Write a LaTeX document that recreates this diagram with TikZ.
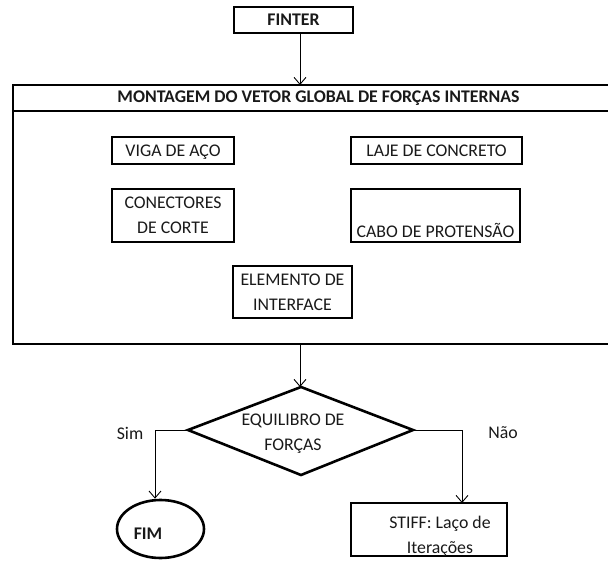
\documentclass[tikz,border=0pt]{standalone}
\usepackage{fontspec}
\setmainfont{Carlito}
\usetikzlibrary{arrows.meta,shapes.geometric}
\begin{document}
\begin{tikzpicture}[x=1pt,y=-1pt,
  every node/.style={font=\fontsize{17.8}{25}\selectfont, text=black!90, inner sep=0pt},
  boldtext/.style={font=\bfseries\fontsize{17.8}{21}\selectfont},
  blockbox/.style={draw, line width=2.6pt, minimum width=#1, align=center, text depth=0pt},
  flow/.style={draw, line width=0.9pt, -{Straight Barb[length=7pt,width=12pt,line width=0.9pt]}},
  lbl/.style={font=\fontsize{17.8}{21}\selectfont}]
\useasboundingbox (0,0) rectangle (608,562);
\begin{scope}
\clip (0,0) rectangle (608,562);
% outer frame of the assembly stage, running off the right edge
\draw[line width=2.2pt] (13,85) rectangle (640,344);
\draw[line width=2.2pt] (13,111) -- (640,111);
\end{scope}
\node[boldtext] (title) at (318.5,98) {MONTAGEM DO VETOR GLOBAL DE FORÇAS INTERNAS};
\coordinate (frametop) at (300,85);
\coordinate (framebot) at (300,344);

% entry block
\node[draw, line width=2.6pt, minimum width=119pt, minimum height=26pt, boldtext] (finter) at (293.5,20) {FINTER};
\draw[flow] (finter.south -| frametop) -- (frametop);

% element contributions
\node[blockbox=122pt, minimum height=27pt] (viga) at (173,150.5) {VIGA DE AÇO};
\node[blockbox=171pt, minimum height=27pt] (laje) at (436.5,150.5) {LAJE DE CONCRETO};
\node[blockbox=122pt, minimum height=53pt] (conect) at (173,215.5) {CONECTORES\\DE CORTE};
\node[blockbox=169pt, minimum height=53pt] (cabo) at (435.5,215.5) {};
\node (cabotxt) at (435.5,230) {CABO DE PROTENSÃO};
\node[blockbox=119pt, minimum height=52pt] (interf) at (292.5,292) {ELEMENTO DE\\INTERFACE};

% equilibrium check
\draw[line width=2.6pt] (301,387) coordinate (dtop) -- (413,430) coordinate (dright)
  -- (301,475) coordinate (dbot) -- (188,430) coordinate (dleft) -- cycle;
\node[align=center] (equil) at (293,433.5) {EQUILIBRO DE\\FORÇAS};
\draw[flow] (framebot) -- (dtop -| framebot);

% converged branch
\node[draw, ellipse, line width=2.6pt, minimum width=87pt, minimum height=58pt] (fim) at (160.5,529) {};
\node[boldtext] (fimtxt) at (148,534) {FIM};
\draw[flow] (dleft) -| (fim.north -| 155,0);
\node[lbl] (sim) at (130,433) {Sim};

% iterate branch
\node[draw, line width=2.6pt, minimum width=156pt, minimum height=53pt] (stiff) at (429,529.5) {};
\node[align=center] (stifftxt) at (440,536) {STIFF: Laço de\\Iterações};
\draw[flow] (dright) -| (462,503);
\node[lbl] (nao) at (503,433) {Não};
\end{tikzpicture}
\end{document}
